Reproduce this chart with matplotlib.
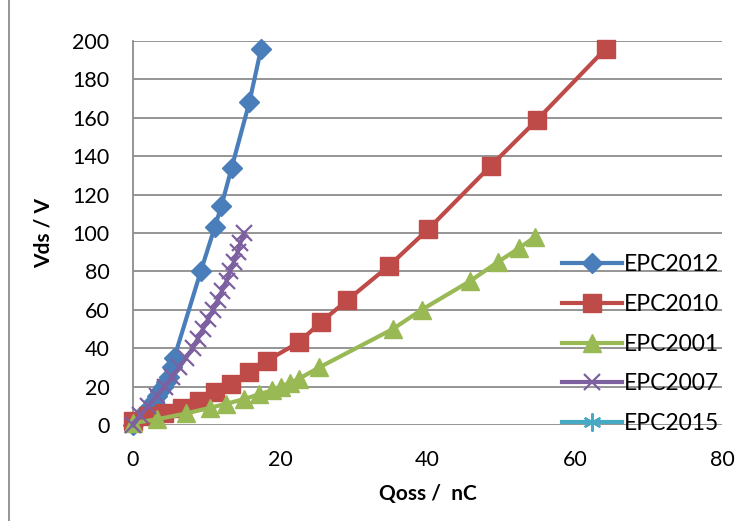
import matplotlib.pyplot as plt
from matplotlib.lines import Line2D

plt.rcParams['font.family'] = ['Lato', 'DejaVu Sans']

# EPC2012
q_2012 = [0, 0.6, 1.2, 1.8, 2.4, 2.9, 3.3, 3.7, 4.1, 4.5, 4.9, 5.3, 5.6, 9.2, 11.1, 12.0, 13.4, 15.8, 17.4]
v_2012 = [0, 2.5, 5, 7.5, 10, 12.5, 15, 17.5, 20, 22.5, 25, 30, 35, 80, 103, 114, 134, 168, 196]

# EPC2010
q_2010 = [0, 2.0, 4.2, 6.6, 9.0, 11.1, 13.3, 15.7, 18.2, 22.5, 25.5, 29.1, 34.8, 40.1, 48.6, 54.9, 64.2]
v_2010 = [2, 4.5, 6.5, 9, 12.5, 17, 21.5, 27.5, 33.5, 43, 53.5, 65, 83, 102, 135, 159, 196]

# EPC2001
q_2001 = [0, 3.3, 7.2, 10.5, 12.6, 15.1, 17.1, 18.9, 20.1, 21.3, 22.5, 25.3, 35.3, 39.2, 45.8, 49.6, 52.4, 54.6]
v_2001 = [1, 3, 6, 9, 11, 13.5, 16, 18, 20, 22, 24, 30, 50, 60, 75, 85, 92, 98]

# EPC2007
q_2007 = [0, 1.0, 2.1, 3.2, 4.3, 5.3, 6.3, 7.2, 8.1, 8.8, 9.5, 10.2, 10.9, 11.5, 12.1, 12.7, 13.2, 13.7, 14.2, 14.6, 15.1]
v_2007 = [0, 5, 10, 15, 20, 25, 30, 35, 40, 45, 50, 55, 60, 65, 70, 75, 80, 85, 90, 95, 100]

# EPC2015 (no data)
q_2015 = []
v_2015 = []

fig = plt.figure(figsize=(7.49, 5.21), dpi=100)
ax = fig.add_axes([133/749, 1 - 425/521, (722 - 133)/749, (425 - 41)/521])

ax.plot(q_2012, v_2012, color='#4A7EBB', lw=3, marker='D', ms=10, label='EPC2012', clip_on=False, zorder=3)
ax.plot(q_2010, v_2010, color='#BE4B48', lw=3, marker='s', ms=13, label='EPC2010', clip_on=False, zorder=4)
ax.plot(q_2001, v_2001, color='#98B954', lw=3, marker='^', ms=13, label='EPC2001', clip_on=False, zorder=5)
ax.plot(q_2007, v_2007, color='#7D60A0', lw=3, marker='x', ms=12, mew=1.6, label='EPC2007', clip_on=False, zorder=6)
ax.plot(q_2015, v_2015, color='#46AAC5', lw=3, marker=(6, 2, 0), ms=13, mew=1.6, label='EPC2015', zorder=7)

ax.set_xlim(0, 80)
ax.set_ylim(0, 200)
ax.set_xticks(range(0, 81, 20))
ax.set_yticks(range(0, 201, 20))
ax.grid(axis='y', color='#8c8c8c', lw=1.3)
ax.set_axisbelow(True)
for s in ['top', 'right', 'bottom']:
    ax.spines[s].set_visible(False)
ax.spines['left'].set_color('#8c8c8c')
ax.spines['left'].set_linewidth(1.3)
ax.tick_params(axis='both', length=0, labelsize=15.5)
ax.tick_params(axis='y', pad=17)
ax.tick_params(axis='x', pad=18)

ax.set_xlabel('Qoss /  nC', fontsize=15, fontweight='bold', labelpad=10)
ax.set_ylabel('Vds / V', fontsize=15, fontweight='bold', labelpad=13)

ax.legend(loc='upper left', bbox_to_anchor=(562/749, 1 - 254/521), bbox_transform=fig.transFigure,
          frameon=False, fontsize=16.5, handlelength=2.6, labelspacing=0.82, handletextpad=0.12,
          borderaxespad=0, borderpad=0)

fig.add_artist(Line2D([8.5/749, 8.5/749], [0, 1], color='#8c8c8c', lw=1.3, transform=fig.transFigure))

fig.savefig('out.png', dpi=100)
